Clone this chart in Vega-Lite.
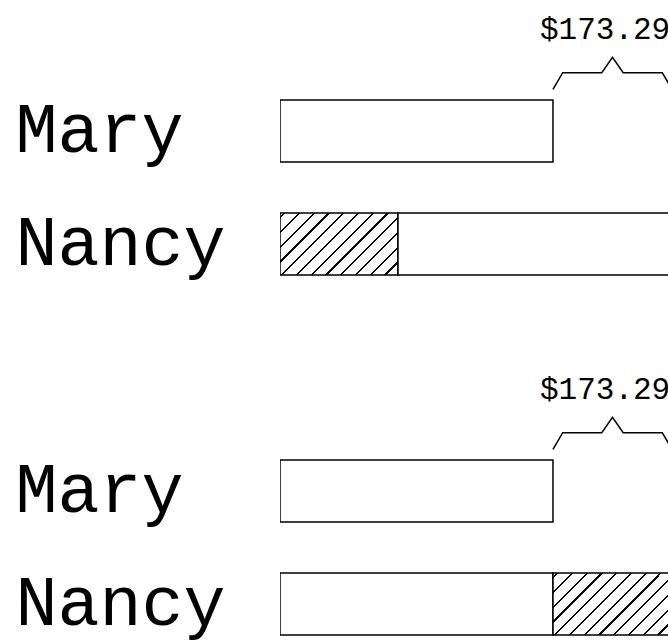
{
  "$schema": "https://vega.github.io/schema/vega-lite/v6.json",
  "padding": {"left": 15, "top": 0, "right": 0, "bottom": 0},
  "background": "white",
  "data": {
    "values": [
      {"panel": 1, "name": "Mary", "start": 0, "end": 173.29, "hatched": false},
      {"panel": 1, "name": "Nancy", "start": 0, "end": 74.9, "hatched": true},
      {"panel": 1, "name": "Nancy", "start": 74.9, "end": 248.19, "hatched": false},
      {"panel": 2, "name": "Mary", "start": 0, "end": 173.29, "hatched": false},
      {"panel": 2, "name": "Nancy", "start": 0, "end": 173.29, "hatched": false},
      {"panel": 2, "name": "Nancy", "start": 173.29, "end": 248.19, "hatched": true}
    ]
  },
  "facet": {"row": {"field": "panel", "type": "ordinal", "header": {"labels": false, "title": null}}},
  "spacing": {"row": 60},
  "spec": {
    "width": 388,
    "height": 300,
    "layer": [
      {
        "mark": {"type": "bar", "clip": true, "stroke": "black", "strokeWidth": 1.5},
        "encoding": {
          "x": {"field": "start", "type": "quantitative", "scale": {"domain": [0, 246.3], "nice": false, "zero": true}, "axis": null},
          "x2": {"field": "end"},
          "y": {
            "field": "name", "type": "nominal",
            "scale": {"domain": ["Mary", "Nancy"], "paddingInner": 0.451, "paddingOuter": 0.553, "align": 0.8},
            "axis": {"title": null, "domain": false, "ticks": false, "tickSize": 0, "labelFont": "Liberation Mono", "labelFontSize": 70, "labelColor": "black", "labelAlign": "left", "labelBaseline": "middle", "labelPadding": 265, "labelLimit": 0, "labelOverlap": false}
          },
          "fill": {
            "condition": {
              "test": "datum.hatched",
              "value": {
                "gradient": "linear", "x1": 0, "y1": 0, "x2": 1.2, "y2": 0.63,
                "stops": [
                  {"offset": 0, "color": "white"},
                  {"offset": 0.02, "color": "white"}, {"offset": 0.02, "color": "black"}, {"offset": 0.0325, "color": "black"}, {"offset": 0.0325, "color": "white"},
                  {"offset": 0.1016, "color": "white"}, {"offset": 0.1016, "color": "black"}, {"offset": 0.1141, "color": "black"}, {"offset": 0.1141, "color": "white"},
                  {"offset": 0.1832, "color": "white"}, {"offset": 0.1832, "color": "black"}, {"offset": 0.1957, "color": "black"}, {"offset": 0.1957, "color": "white"},
                  {"offset": 0.2648, "color": "white"}, {"offset": 0.2648, "color": "black"}, {"offset": 0.2773, "color": "black"}, {"offset": 0.2773, "color": "white"},
                  {"offset": 0.3464, "color": "white"}, {"offset": 0.3464, "color": "black"}, {"offset": 0.3589, "color": "black"}, {"offset": 0.3589, "color": "white"},
                  {"offset": 0.428, "color": "white"}, {"offset": 0.428, "color": "black"}, {"offset": 0.4405, "color": "black"}, {"offset": 0.4405, "color": "white"},
                  {"offset": 0.5096, "color": "white"}, {"offset": 0.5096, "color": "black"}, {"offset": 0.5221, "color": "black"}, {"offset": 0.5221, "color": "white"},
                  {"offset": 0.5912, "color": "white"}, {"offset": 0.5912, "color": "black"}, {"offset": 0.6037, "color": "black"}, {"offset": 0.6037, "color": "white"},
                  {"offset": 0.6728, "color": "white"}, {"offset": 0.6728, "color": "black"}, {"offset": 0.6853, "color": "black"}, {"offset": 0.6853, "color": "white"},
                  {"offset": 0.7544, "color": "white"}, {"offset": 0.7544, "color": "black"}, {"offset": 0.7669, "color": "black"}, {"offset": 0.7669, "color": "white"},
                  {"offset": 0.836, "color": "white"}, {"offset": 0.836, "color": "black"}, {"offset": 0.8485, "color": "black"}, {"offset": 0.8485, "color": "white"},
                  {"offset": 0.9176, "color": "white"}, {"offset": 0.9176, "color": "black"}, {"offset": 0.9301, "color": "black"}, {"offset": 0.9301, "color": "white"},
                  {"offset": 1, "color": "white"}
                ]
              }
            },
            "value": "white"
          }
        }
      },
      {
        "transform": [{"filter": "datum.name === 'Mary'"}],
        "mark": {"type": "point", "shape": "M0,-0.7L0.163,-0.98L0.82,-0.98L1,-1.24L1.18,-0.98L1.837,-0.98L2,-0.7", "size": 14161, "filled": false, "color": "black", "strokeWidth": 1.5, "opacity": 1},
        "encoding": {
          "x": {"field": "end", "type": "quantitative"},
          "y": {"field": "name", "type": "nominal"}
        }
      },
      {
        "transform": [{"filter": "datum.name === 'Mary'"}],
        "mark": {"type": "text", "font": "Liberation Mono", "fontSize": 31, "align": "left", "baseline": "alphabetic", "dx": -13, "dy": -92, "color": "black"},
        "encoding": {
          "x": {"field": "end", "type": "quantitative"},
          "y": {"field": "name", "type": "nominal"},
          "text": {"field": "end", "type": "quantitative", "format": "$.2f"}
        }
      }
    ]
  },
  "config": {"view": {"stroke": null}}
}
